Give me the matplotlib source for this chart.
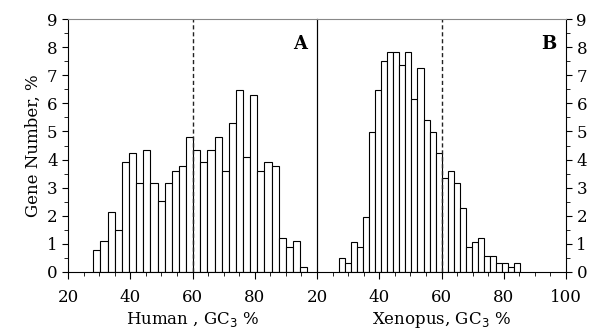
import numpy as np
import matplotlib
matplotlib.use("Agg")
import matplotlib.pyplot as plt

# Human GC3 histogram (gene %), bins start ~28.15, width ~2.29
human_start = 28.15
human_width = 2.29
human = [0.77, 1.09, 2.13, 1.49, 3.92, 4.23, 3.17, 4.33, 3.17, 2.54,
         3.17, 3.60, 3.77, 4.82, 4.33, 3.92, 4.33, 4.80, 3.60, 5.29,
         6.46, 4.09, 6.29, 3.60, 3.92, 3.77, 1.22, 0.90, 1.09, 0.18]

# Xenopus GC3 histogram, bins start ~27.06, width ~1.94
xen_start = 27.06
xen_width = 1.94
xenopus = [0.50, 0.33, 1.08, 0.90, 1.97, 4.97, 6.46, 7.49, 7.81, 7.81,
           7.35, 7.81, 6.17, 7.24, 5.39, 4.97, 4.24, 3.33, 3.60, 3.17,
           2.26, 0.90, 1.08, 1.22, 0.58, 0.58, 0.33, 0.33, 0.18, 0.33]

xticks = [20, 40, 60, 80]
xticks_b = [20, 40, 60, 80, 100]
yticks = list(range(0, 10))

plt.rcParams['font.family'] = 'DejaVu Serif'

fig = plt.figure(figsize=(5.9, 3.31), dpi=100)
ax1 = fig.add_axes([68/590, 59/331, 249/590, 253/331])
ax2 = fig.add_axes([317/590, 59/331, 249/590, 253/331])

def draw(ax, start, width, vals, label, panel):
    x = start + width * np.arange(len(vals))
    ax.bar(x, vals, width=width, align='edge', color='white',
           edgecolor='black', linewidth=0.8)
    ax.plot([60, 60], [0, 9], ls=(0, (3, 2)), color='#222222', lw=1)
    ax.set_xlim(20, 100)
    ax.set_ylim(0, 9)
    ax.set_xticks(np.arange(20, 101, 5), minor=True)
    ax.set_yticks(np.arange(0, 9.01, 0.5), minor=True)
    ax.set_yticks(yticks)
    ax.tick_params(axis='both', which='both', direction='out', labelsize=12)
    ax.tick_params(axis='x', which='major', length=5, pad=7)
    ax.tick_params(axis='x', which='minor', length=3)
    ax.tick_params(axis='y', which='major', length=4)
    ax.tick_params(axis='y', which='minor', length=3)
    ax.spines['top'].set_color('#888888')
    ax.set_xlabel(label, fontsize=12, labelpad=3)
    ax.text(0.96, 0.9, panel, transform=ax.transAxes, ha='right', va='center',
            fontsize=13, fontweight='bold')

draw(ax1, human_start, human_width, human, 'Human , GC$_3$ %', 'A')
draw(ax2, xen_start, xen_width, xenopus, 'Xenopus, GC$_3$ %', 'B')

ax1.set_xticks(xticks)
ax1.spines['right'].set_color('black')
ax1.set_ylabel('Gene Number, %', fontsize=12, labelpad=4)

ax2.set_xticks(xticks_b)
ax2.patch.set_alpha(0)
ax2.spines['left'].set_color('black')
ax2.yaxis.tick_right()
ax2.spines['right'].set_color('black')

fig.savefig('out.png', dpi=100)
